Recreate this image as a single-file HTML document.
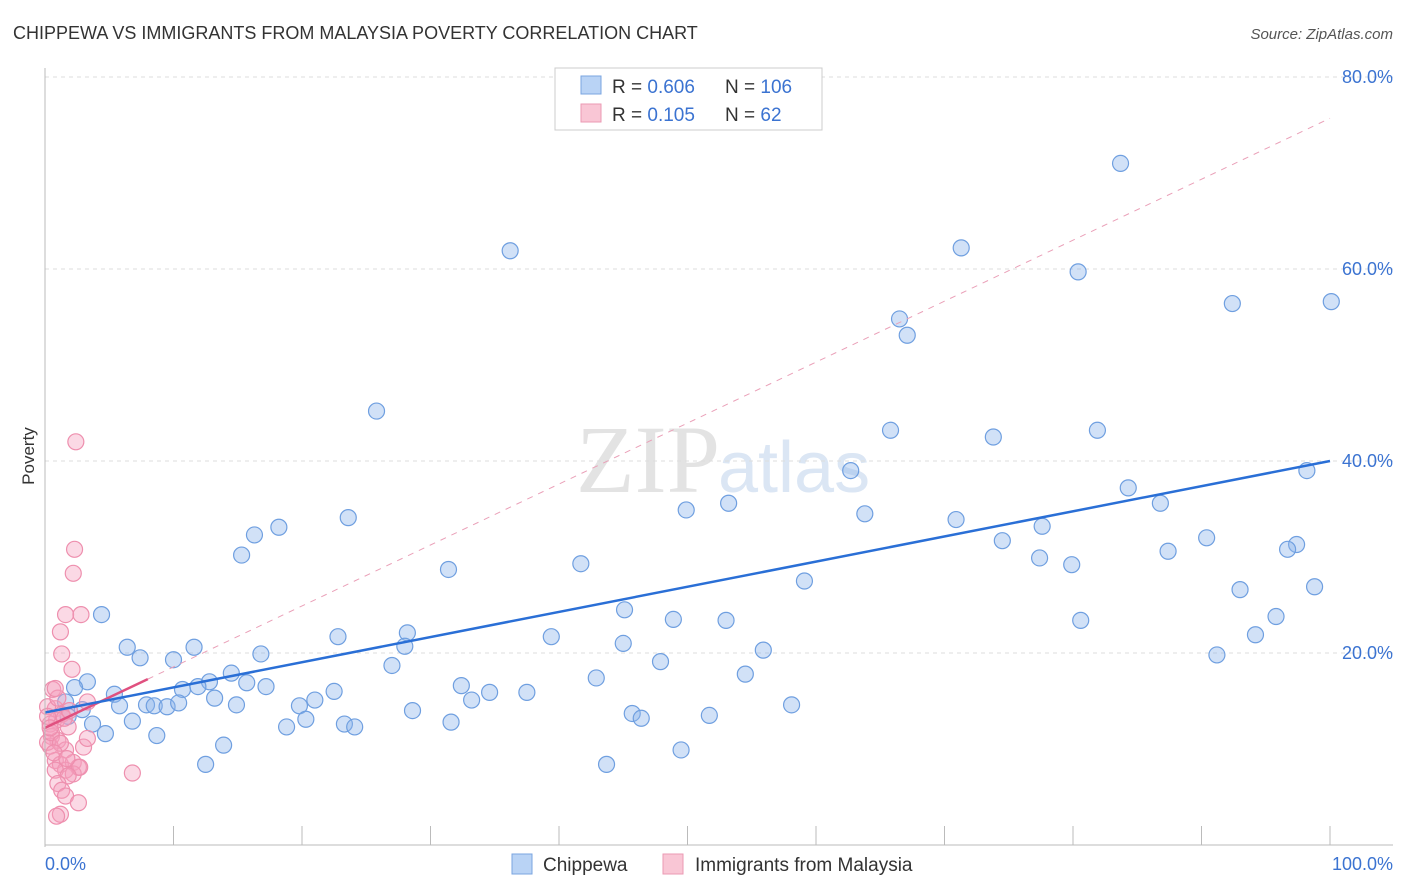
<!DOCTYPE html>
<html><head><meta charset="utf-8"><style>
body{margin:0;background:#fff;font-family:"Liberation Sans",sans-serif;}
#wrap{position:relative;width:1406px;height:892px;overflow:hidden}
</style></head><body>
<div id="wrap">
<svg id="svg" width="1406" height="892">
<text x="13" y="39" font-size="18" fill="#333">CHIPPEWA VS IMMIGRANTS FROM MALAYSIA POVERTY CORRELATION CHART</text>
<text x="1393" y="39" font-size="15" fill="#555" font-style="italic" text-anchor="end">Source: ZipAtlas.com</text>
<text x="34" y="456" font-size="17" fill="#333" transform="rotate(-90 34 456)" text-anchor="middle">Poverty</text>
<text x="720" y="492" font-size="96" fill="#e3e3e3" text-anchor="end" font-family="Liberation Serif">ZIP</text>
<text x="718" y="492" font-size="72" fill="#dbe6f4">atlas</text>
<g id="grid"></g><g id="pts"></g><g id="lines"></g>
<line x1="45" y1="68" x2="45" y2="847" stroke="#bbb"/>
<line x1="45" y1="845" x2="1393" y2="845" stroke="#bbb"/>
<text x="45" y="870" font-size="18" fill="#3b73d1">0.0%</text>
<text x="1393" y="870" font-size="18" fill="#3b73d1" text-anchor="end">100.0%</text>
<g>
<rect x="555" y="68" width="267" height="62" fill="#fff" stroke="#ccc"/>
<rect x="581" y="76" width="20" height="18" fill="#b9d3f5" stroke="#7aa5e0"/>
<rect x="581" y="104" width="20" height="18" fill="#f9c6d5" stroke="#eb9ab3"/>
<text x="612" y="93" font-size="19" fill="#333">R = <tspan fill="#3b73d1">0.606</tspan></text>
<text x="725" y="93" font-size="19" fill="#333">N = <tspan fill="#3b73d1">106</tspan></text>
<text x="612" y="121" font-size="19" fill="#333">R =  <tspan fill="#3b73d1">0.105</tspan></text>
<text x="725" y="121" font-size="19" fill="#333">N =   <tspan fill="#3b73d1">62</tspan></text>
</g>
<g>
<rect x="512" y="854" width="20" height="20" fill="#b9d3f5" stroke="#7aa5e0"/>
<text x="543" y="871" font-size="19" fill="#333">Chippewa</text>
<rect x="663" y="854" width="20" height="20" fill="#f9c6d5" stroke="#eb9ab3"/>
<text x="695" y="871" font-size="19" fill="#333">Immigrants from Malaysia</text>
</g>
</svg></div>
<script>
const yTicks=[20,40,60,80];
const xTicks=[0,10,20,30,40,50,60,70,80,90,100];
const blueX=[83.7,36.2,71.3,80.4,92.4,100.1,66.5,67.1,25.8,65.8,73.8,81.9,62.7,84.3,98.2,49.9,53.2,63.8,70.9,86.8,16.3,18.2,23.6,15.3,74.5,77.6,90.4,97.4,96.7,87.4,77.4,79.9,41.7,31.4,59.1,98.8,93.0,4.4,45.1,48.9,53.0,80.6,95.8,94.2,22.8,28.2,39.4,45.0,6.4,7.4,11.6,16.8,10.0,28.0,55.9,91.2,47.9,27.0,14.5,54.5,42.9,3.3,2.3,12.8,10.7,11.9,15.7,17.2,32.4,34.6,37.5,22.5,5.4,13.2,33.2,21.0,19.8,7.9,8.5,9.5,10.4,14.9,5.8,2.9,1.8,28.6,45.7,46.4,51.7,58.1,20.3,3.7,6.8,23.3,24.1,31.6,18.8,4.7,8.7,13.9,12.5,43.7,49.5,1.6];
const blueY=[71.0,61.9,62.2,59.7,56.4,56.6,54.8,53.1,45.2,43.2,42.5,43.2,39.0,37.2,39.0,34.9,35.6,34.5,33.9,35.6,32.3,33.1,34.1,30.2,31.7,33.2,32.0,31.3,30.8,30.6,29.9,29.2,29.3,28.7,27.5,26.9,26.6,24.0,24.5,23.5,23.4,23.4,23.8,21.9,21.7,22.1,21.7,21.0,20.6,19.5,20.6,19.9,19.3,20.7,20.3,19.8,19.1,18.7,17.9,17.8,17.4,17.0,16.4,17.0,16.2,16.5,16.9,16.5,16.6,15.9,15.9,16.0,15.7,15.3,15.1,15.1,14.5,14.6,14.5,14.4,14.8,14.6,14.5,14.1,13.4,14.0,13.7,13.2,13.5,14.6,13.1,12.6,12.9,12.6,12.3,12.8,12.3,11.6,11.4,10.4,8.4,8.4,9.9,14.9];
const pinkX=[2.4,2.3,2.2,1.6,2.8,1.2,1.3,2.1,0.6,3.3,0.8,0.2,1.3,0.9,0.4,1.8,0.5,1.0,0.4,0.2,3.0,1.6,3.3,0.8,1.2,2.2,2.6,1.6,2.2,0.8,6.8,2.7,1.8,1.0,1.3,1.6,2.6,1.2,0.9,0.5,0.2,1.0,1.5,1.9,0.8,0.4,1.2,0.7,1.7];
const pinkY=[42.0,30.8,28.3,24.0,24.0,22.2,19.9,18.3,16.2,14.9,14.2,14.4,13.6,13.0,12.6,12.3,11.3,10.9,10.3,10.7,10.2,9.9,11.1,8.8,8.4,8.6,8.1,7.8,7.4,7.8,7.5,8.1,7.2,6.4,5.7,5.1,4.4,3.2,3.0,11.7,13.4,15.3,13.2,14.0,16.3,12.2,10.6,9.6,9.0];
const blueTrend=[13.8,40.0];
const pinkTrend=[12.2,75.7];
const pinkSolidEnd=8;

const NS="http://www.w3.org/2000/svg";
const X=v=>45+v*12.85, Y=v=>845-v*9.6;
function mk(t,a,p){const e=document.createElementNS(NS,t);for(const k in a)e.setAttribute(k,a[k]);p.appendChild(e);return e;}
const grid=document.getElementById('grid'),pts=document.getElementById('pts'),lines=document.getElementById('lines');
yTicks.forEach(v=>{
 const l=mk('line',{x1:45,x2:1393,y1:Y(v),y2:Y(v),stroke:'#ddd','stroke-dasharray':'4,4'},grid);
 
 
 const t=mk('text',{x:1393,y:Y(v)+6,'font-size':18,fill:'#3b73d1','text-anchor':'end'},grid);
 t.textContent=v.toFixed(1)+'%';
 
 
});
xTicks.forEach(v=>{
 const l=mk('line',{x1:X(v),x2:X(v),y1:826,y2:845,stroke:'#bbb'},grid);
 
 
});
blueX.forEach((x,i)=>{
 const c=mk('circle',{cx:X(x),cy:Y(blueY[i]),r:8,fill:'rgba(140,180,235,0.4)',stroke:'#6f9fe0','stroke-width':1.2},pts);
 
 
});
pinkX.forEach((x,i)=>{
 const c=mk('circle',{cx:X(x),cy:Y(pinkY[i]),r:8,fill:'rgba(245,160,190,0.4)',stroke:'#ee8fae','stroke-width':1.2},pts);
 
 
});
const pAt=v=>pinkTrend[0]+(pinkTrend[1]-pinkTrend[0])*v/100;
const d=mk('line',{x1:X(pinkSolidEnd),y1:Y(pAt(pinkSolidEnd)),x2:X(100),y2:Y(pinkTrend[1]),stroke:'#eaa0b8','stroke-dasharray':'6,6','stroke-width':1},lines);


const s=mk('line',{x1:X(0),y1:Y(pinkTrend[0]),x2:X(pinkSolidEnd),y2:Y(pAt(pinkSolidEnd)),stroke:'#e0507f','stroke-width':2.5},lines);


const b=mk('line',{x1:X(0),y1:Y(blueTrend[0]),x2:X(100),y2:Y(blueTrend[1]),stroke:'#2a6fd6','stroke-width':2.5},lines);


</script>
</body></html>
